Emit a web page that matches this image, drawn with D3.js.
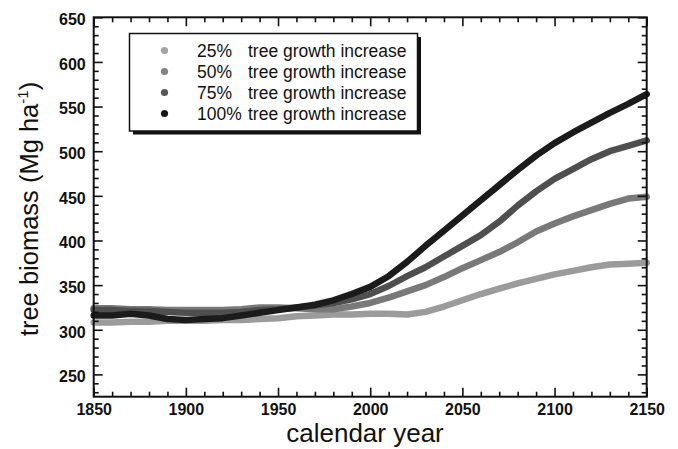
<!DOCTYPE html>
<html>
<head>
<meta charset="utf-8">
<script src="https://cdn.jsdelivr.net/npm/d3@7"></script>
<style>
  html, body { margin: 0; padding: 0; background: #fff; }
  svg { display: block; font-family: "Liberation Sans", Arial, Helvetica, sans-serif; }
</style>
</head>
<body>
<svg id="chart" width="678" height="449"></svg>
<script>
// Simulated tree biomass under four tree growth increase scenarios (decadal readings)
const years = [1850, 1860, 1870, 1880, 1890, 1900, 1910, 1920, 1930, 1940,
               1950, 1960, 1970, 1980, 1990, 2000, 2010, 2020, 2030, 2040,
               2050, 2060, 2070, 2080, 2090, 2100, 2110, 2120, 2130, 2140, 2150];

const growth25 = [308, 308, 309, 309, 310, 310, 310, 311, 311, 312,
                  313, 315, 316, 317, 317, 318, 318, 317, 320, 326,
                  333, 340, 346, 352, 357, 362, 366, 370, 373, 374, 375];

const growth50 = [324, 324, 323, 323, 322, 322, 322, 322, 323, 325,
                  325, 324, 323, 323, 326, 330, 336, 343, 350, 359,
                  369, 378, 387, 398, 410, 419, 427, 434, 441, 447, 449];

const growth75 = [322, 322, 321, 321, 320, 319, 319, 319, 320, 322,
                  323, 325, 327, 330, 334, 340, 349, 360, 370, 382,
                  394, 406, 421, 439, 455, 469, 480, 491, 500, 506, 512];

const growth100 = [316, 316, 318, 316, 312, 311, 312, 313, 316, 319,
                   322, 325, 328, 333, 340, 348, 360, 376, 394, 411,
                   428, 445, 462, 479, 495, 509, 521, 532, 543, 553, 564];

const seriesLabels = ["25%", "50%", "75%", "100%"];
const seriesValues = [growth25, growth50, growth75, growth100];
const lineColors = ["#9b9b9b", "#797979", "#4f4f4f", "#1b1b1b"];
const dotColors = ["#a4a4a4", "#828282", "#575757", "#161616"];
const legendSuffix = "tree growth increase";

const xMajorTicks = [1850, 1900, 1950, 2000, 2050, 2100, 2150];
const yMajorTicks = [250, 300, 350, 400, 450, 500, 550, 600, 650];

const svg = d3.select("#chart");

const x = d3.scaleLinear().domain([1850, 2150]).range([93.7, 646.7]);
const y = d3.scaleLinear().domain([225, 650]).range([396.7, 17.3]);

const xMinorTicks = d3.range(1850, 2151, 10).filter(v => v % 50 !== 0);
const yMinorTicks = d3.range(230, 651, 10).filter(v => v % 50 !== 0);

const [plotLeft, plotRight] = x.range();
const [plotBottom, plotTop] = y.range();

// Data lines (lightest first, darkest on top)
const line = d3.line()
  .x((d, i) => x(years[i]))
  .y(d => y(d));

svg.append("g")
  .selectAll("path")
  .data(seriesValues)
  .join("path")
  .attr("d", d => line(d))
  .attr("fill", "none")
  .attr("stroke", (d, i) => lineColors[i])
  .attr("stroke-width", 6.5)
  .attr("stroke-linejoin", "round")
  .attr("stroke-linecap", "round");

// Axes with inward ticks on all four sides
function styleAxis(g) {
  g.select(".domain").remove();
  g.selectAll(".tick line").attr("stroke", "#111").attr("stroke-width", 1.6);
  g.selectAll(".tick text")
    .attr("fill", "#111")
    .attr("font-size", 16)
    .attr("font-weight", "bold")
    .attr("font-family", "'Liberation Sans', Arial, sans-serif");
}

svg.append("g")
  .attr("transform", `translate(0,${plotBottom})`)
  .call(d3.axisBottom(x).tickValues(xMajorTicks).tickSize(-9).tickPadding(7).tickFormat(d3.format("d")))
  .call(styleAxis);
svg.append("g")
  .attr("transform", `translate(0,${plotBottom})`)
  .call(d3.axisBottom(x).tickValues(xMinorTicks).tickSize(-5).tickFormat(""))
  .call(styleAxis);
svg.append("g")
  .attr("transform", `translate(0,${plotTop})`)
  .call(d3.axisTop(x).tickValues(xMajorTicks).tickSize(-9).tickFormat(""))
  .call(styleAxis);
svg.append("g")
  .attr("transform", `translate(0,${plotTop})`)
  .call(d3.axisTop(x).tickValues(xMinorTicks).tickSize(-5).tickFormat(""))
  .call(styleAxis);

const yLeft = svg.append("g")
  .attr("transform", `translate(${plotLeft},0)`)
  .call(d3.axisLeft(y).tickValues(yMajorTicks).tickSize(-9).tickPadding(8).tickFormat(d3.format("d")))
  .call(styleAxis);
yLeft.selectAll(".tick text").attr("dy", "0.46em");
svg.append("g")
  .attr("transform", `translate(${plotLeft},0)`)
  .call(d3.axisLeft(y).tickValues(yMinorTicks).tickSize(-5).tickFormat(""))
  .call(styleAxis);
svg.append("g")
  .attr("transform", `translate(${plotRight},0)`)
  .call(d3.axisRight(y).tickValues(yMajorTicks).tickSize(-9).tickFormat(""))
  .call(styleAxis);
svg.append("g")
  .attr("transform", `translate(${plotRight},0)`)
  .call(d3.axisRight(y).tickValues(yMinorTicks).tickSize(-5).tickFormat(""))
  .call(styleAxis);

// Plot frame
svg.append("rect")
  .attr("x", plotLeft).attr("y", plotTop)
  .attr("width", plotRight - plotLeft).attr("height", plotBottom - plotTop)
  .attr("fill", "none").attr("stroke", "#111").attr("stroke-width", 2);

// Axis titles
svg.append("text")
  .attr("x", 365).attr("y", 442)
  .attr("text-anchor", "middle")
  .attr("font-size", 26)
  .attr("fill", "#111")
  .text("calendar year");

const yTitle = svg.append("text")
  .attr("transform", "translate(38,209) rotate(-90)")
  .attr("text-anchor", "middle")
  .attr("font-size", 25.5)
  .attr("fill", "#111");
yTitle.append("tspan").text("tree biomass (Mg ha");
yTitle.append("tspan").attr("font-size", 15).attr("dy", -10).text("-1");
yTitle.append("tspan").attr("dy", 10).text(")");

// Legend box with drop shadow
const legend = svg.append("g");
const lx = 129.5, ly = 33.5, lw = 288, lh = 97.5;
legend.append("rect")
  .attr("x", lx + 3.5).attr("y", ly + 3.5)
  .attr("width", lw).attr("height", lh)
  .attr("fill", "#111");
legend.append("rect")
  .attr("x", lx).attr("y", ly)
  .attr("width", lw).attr("height", lh)
  .attr("fill", "#fff").attr("stroke", "#111").attr("stroke-width", 1.5);

const rows = legend.selectAll("g.row")
  .data(seriesLabels)
  .join("g")
  .attr("class", "row")
  .attr("transform", (d, i) => `translate(0,${57 + i * 21})`);
rows.append("circle")
  .attr("cx", 164.5).attr("cy", -6.5).attr("r", 3.6)
  .attr("fill", (d, i) => dotColors[i]);
rows.append("text")
  .attr("x", 197).attr("y", 0)
  .attr("font-size", 17.5).attr("fill", "#111")
  .text(d => d);
rows.append("text")
  .attr("x", 248).attr("y", 0)
  .attr("font-size", 17.5).attr("fill", "#111")
  .text(legendSuffix);
</script>
</body>
</html>
